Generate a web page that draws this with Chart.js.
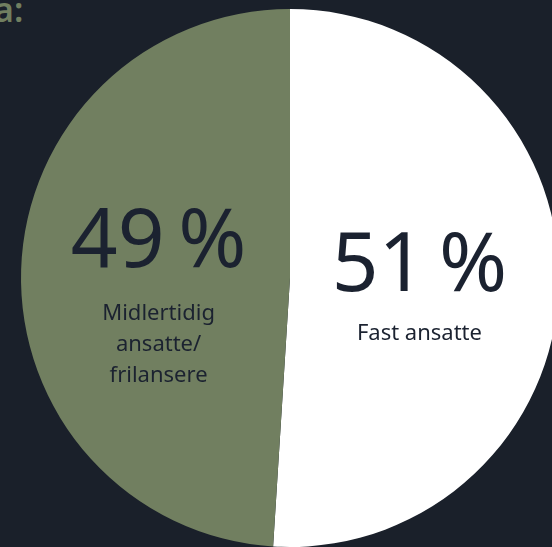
<!DOCTYPE html>
<html lang="no">
<head>
  <meta charset="UTF-8" />
  <title>Ansettelsesform</title>
  <script src="https://cdn.jsdelivr.net/npm/chart.js"></script>
  <style>
    html, body { margin: 0; padding: 0; background: #1a202a; overflow: hidden; width: 552px; height: 547px; }
    .tittel { position: absolute; left: -6px; top: -14px; font-family: "Noto Sans", sans-serif; font-weight: 600; font-size: 34px; color: #717f60; }
    .graf { position: absolute; left: 0; top: 9px; width: 580px; height: 538px; }
  </style>
</head>
<body>
  <div class="tittel">a:</div>
  <div class="graf"><canvas id="kakeGraf"></canvas></div>

  <script>
    // data
    const kategorier = ['Fast ansatte', 'Midlertidig ansatte/ frilansere'];
    const andeler = [51, 49];
    const etiketter = [['Fast ansatte'], ['Midlertidig', 'ansatte/', 'frilansere']];
    const farger = ['#ffffff', '#717f60'];

    // tekst inne i hver bit
    const tekstPlugin = {
      id: 'tekstPlugin',
      afterDraw(chart) {
        const ctx = chart.ctx;
        const meta = chart.getDatasetMeta(0);
        ctx.save();
        ctx.fillStyle = '#1b2230';
        ctx.textAlign = 'center';
        ctx.textBaseline = 'middle';
        meta.data.forEach(function (bit, i) {
          const p = bit.getCenterPoint();
          const dx = i === 0 ? -5 : 3;
          const stor = i === 0 ? -15 : -30;
          const start = i === 0 ? 52 : 40;
          ctx.font = '400 82px "Noto Sans"';
          ctx.fillText(andeler[i] + '\u202F%', p.x + dx, p.y + stor);
          ctx.font = '400 22px "Noto Sans"';
          etiketter[i].forEach(function (linje, k) {
            ctx.fillText(linje, p.x + dx, p.y + start + k * 31);
          });
        });
        ctx.restore();
      }
    };

    new Chart(document.getElementById('kakeGraf'), {
      type: 'pie',
      data: {
        labels: kategorier,
        datasets: [{
          data: andeler,
          backgroundColor: farger,
          borderWidth: 0
        }]
      },
      options: {
        responsive: true,
        maintainAspectRatio: false,
        animation: false,
        layout: { padding: 0 },
        plugins: {
          legend: { display: false },
          tooltip: { enabled: false }
        }
      },
      plugins: [tekstPlugin]
    });
  </script>
</body>
</html>
